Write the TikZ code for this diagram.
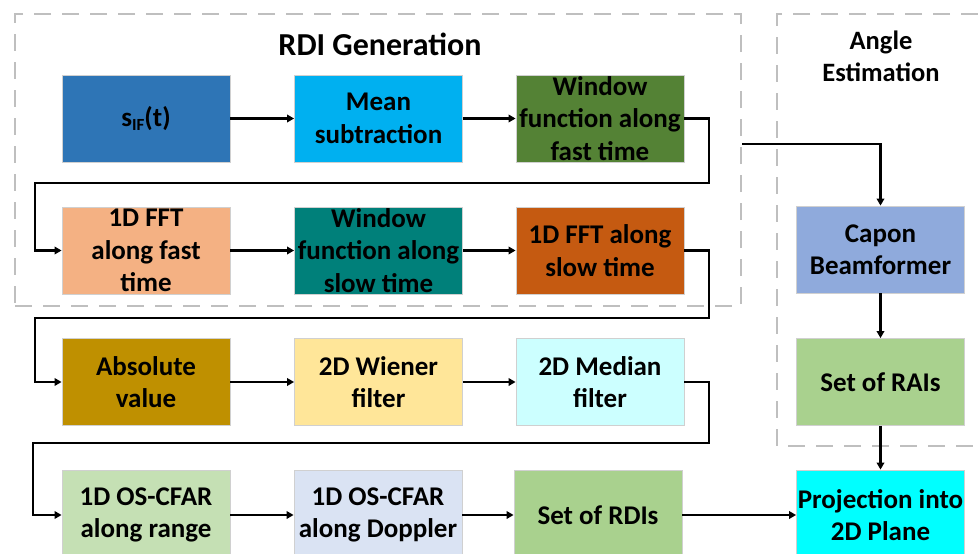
\documentclass[tikz,border=0pt]{standalone}
\usepackage{fontspec}
\setmainfont{Carlito}
\usetikzlibrary{arrows.meta,calc}

\definecolor{cSif}{HTML}{2E75B6}
\definecolor{cMean}{HTML}{00B0F0}
\definecolor{cWinFast}{HTML}{548235}
\definecolor{cFftFast}{HTML}{F4B183}
\definecolor{cWinSlow}{HTML}{00807A}
\definecolor{cFftSlow}{HTML}{C55A11}
\definecolor{cAbs}{HTML}{BF9000}
\definecolor{cWiener}{HTML}{FFE699}
\definecolor{cMedian}{HTML}{CCFFFF}
\definecolor{cCfarR}{HTML}{C5E0B4}
\definecolor{cCfarD}{HTML}{DAE3F3}
\definecolor{cSet}{HTML}{A9D18E}
\definecolor{cCapon}{HTML}{8FAADC}
\definecolor{cProj}{HTML}{00FFFF}
\definecolor{cEdge}{HTML}{D0D0D0}
\definecolor{cGroup}{HTML}{BFBFBF}

\begin{document}
\begin{tikzpicture}[x=1pt,y=-1pt,
  stage/.style={draw=cEdge,line width=0.8pt,minimum width=168pt,minimum height=87pt,
    inner sep=0pt,align=center,text=black,font=\fontsize{27}{32.5}\selectfont\bfseries},
  group/.style={draw=cGroup,line width=2.5pt,dash pattern=on 17pt off 11pt},
  conn/.style={draw=black,line width=2.5pt,-{Triangle[length=7pt,width=7.5pt]}}]
\useasboundingbox (0,0) rectangle (978,554);

% group frames
\node[group,minimum width=726pt,minimum height=292pt,inner sep=0pt] (rdibox) at (378,160) {};
\draw[group] (978,14) -- (777,14) -- (777,446) -- (978,446);

% group titles
\node[font=\fontsize{32}{36}\selectfont\bfseries] (rdititle) at (380,44) {RDI Generation};
\node[align=center,font=\fontsize{26.5}{32}\selectfont\bfseries] (angtitle) at (881,56) {Angle\\Estimation};

% row 1
\node[stage,fill=cSif] (sif) at (146,118.5) {s{\fontsize{17}{17}\selectfont\raisebox{-4.5pt}{IF}}(t)};
\node[stage,fill=cMean] (mean) at (378.5,118.5) {Mean\\subtraction};
\node[stage,fill=cWinFast] (winf) at (600,118.5) {Window\\function along\\fast time};

% row 2
\node[stage,fill=cFftFast] (fftf) at (146,250.5) {1D FFT\\along fast\\time};
\node[stage,fill=cWinSlow] (wins) at (378.5,250.5) {Window\\function along\\slow time};
\node[stage,fill=cFftSlow] (ffts) at (600,250.5) {1D FFT along\\slow time};

% row 3
\node[stage,fill=cAbs] (absv) at (146,382) {Absolute\\value};
\node[stage,fill=cWiener] (wien) at (378.5,382) {2D Wiener\\filter};
\node[stage,fill=cMedian] (medi) at (600,382) {2D Median\\filter};

% row 4
\node[stage,fill=cCfarR,minimum height=90pt] (cfarr) at (146,515) {1D OS-CFAR\\along range};
\node[stage,fill=cCfarD,minimum height=90pt] (cfard) at (378,515) {1D OS-CFAR\\along Doppler};
\node[stage,fill=cSet,minimum height=90pt] (rdis) at (598,515) {Set of RDIs};
\node[stage,fill=cProj,minimum height=90pt] (proj) at (880.5,515) {Projection into\\2D Plane};

% angle column
\node[stage,fill=cCapon] (capon) at (880.5,249.5) {Capon\\Beamformer};
\node[stage,fill=cSet] (rais) at (880.5,382) {Set of RAIs};

% straight links
\draw[conn] (sif) -- (mean);
\draw[conn] (mean) -- (winf);
\draw[conn] (fftf) -- (wins);
\draw[conn] (wins) -- (ffts);
\draw[conn] (absv) -- (wien);
\draw[conn] (wien) -- (medi);
\draw[conn] (cfarr) -- (cfard);
\draw[conn] (cfard) -- (rdis);
\draw[conn] (rdis) -- (proj);
\draw[conn] (capon) -- (rais);
\draw[conn] (rais) -- (proj);

% line wraps between rows
\draw[conn] (winf.east) -- (709,118.5) -- (709,183) -- (35,183) -- (35,250.5) -- (fftf.west);
\draw[conn] (ffts.east) -- (709,250.5) -- (709,318) -- (35,318) -- (35,382) -- (absv.west);
\draw[conn] (medi.east) -- (709,382) -- (709,443) -- (33,443) -- (33,515) -- (cfarr.west);

% feed from RDI generation into angle estimation
\coordinate (tap) at ($(rdibox.north east)+(0,131)$);
\draw[conn] (tap) -| (capon.north);
\end{tikzpicture}
\end{document}
